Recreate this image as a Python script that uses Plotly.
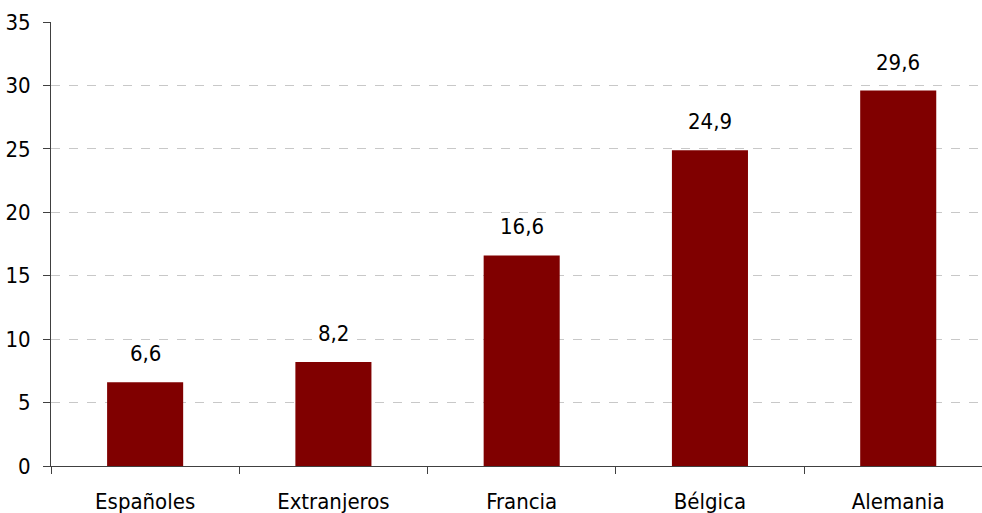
import plotly.graph_objects as go

categories = ["Españoles", "Extranjeros", "Francia", "Bélgica", "Alemania"]
values = [6.6, 8.2, 16.6, 24.9, 29.6]
labels = [f"{v:.1f}".replace(".", ",") for v in values]
y_ticks = [0, 5, 10, 15, 20, 25, 30, 35]

font_family = "DejaVu Sans Condensed, DejaVu Sans, sans-serif"
fs = 22

fig = go.Figure(go.Bar(
    x=categories, y=values,
    marker=dict(color="#800000", line=dict(width=0)),
    width=0.404, hoverinfo="x+y",
))

for c, v, t in zip(categories, values, labels):
    fig.add_annotation(x=c, y=v, text=t, showarrow=False, yanchor="bottom",
                       yshift=14, font=dict(family=font_family, size=fs, color="black"))

fig.update_layout(
    width=982, height=513,
    margin=dict(l=51, r=0, t=22, b=47),
    paper_bgcolor="white", plot_bgcolor="white",
    showlegend=False,
    font=dict(family=font_family, size=fs, color="black"),
    xaxis=dict(
        range=[-0.5, 4.445], showline=True, linecolor="#404040", linewidth=1,
        ticks="outside", tickson="boundaries", ticklen=7, tickcolor="#404040",
        showgrid=False, tickfont=dict(size=fs), fixedrange=True,
        ticklabelstandoff=16,
    ),
    yaxis=dict(
        range=[0, 35], tickvals=y_ticks, showline=True, linecolor="#404040", linewidth=1,
        ticks="outside", ticklen=7, tickcolor="#404040",
        showgrid=True, gridcolor="#c8c8c8", griddash="dash", gridwidth=1,
        zeroline=False, tickfont=dict(size=fs), ticklabelstandoff=8,
    ),
)

fig.write_html(
    "out.html",
    config={"displayModeBar": False},
    post_script="document.body.style.margin='0';document.body.style.overflow='hidden';",
)
